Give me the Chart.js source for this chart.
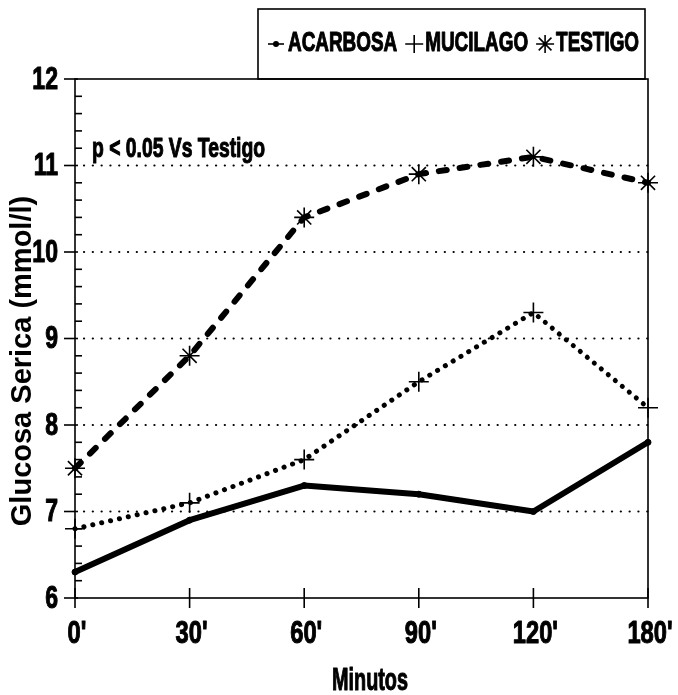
<!DOCTYPE html>
<html>
<head>
<meta charset="utf-8">
<title>Glucosa Serica</title>
<script src="https://cdn.jsdelivr.net/npm/chart.js@4.4.1/dist/chart.umd.min.js"></script>
<style>
  body { margin: 0; background: #fff; }
  #wrap { width: 678px; height: 695px; }
</style>
</head>
<body>
<div id="wrap"><canvas id="glucosaChart" width="678" height="695"></canvas></div>
<script>
// ---------------- DATA -----------------------------
const minutos = ["0'", "30'", "60'", "90'", "120'", "180'"];
const acarbosa = [6.3, 6.9, 7.3, 7.2, 7.0, 7.8];
const mucilago = [6.8, 7.1, 7.6, 8.5, 9.3, 8.2];
const testigo = [7.5, 8.8, 10.4, 10.9, 11.1, 10.8];
const yTicks = [6, 7, 8, 9, 10, 11, 12];
const yTitle = "Glucosa Serica (mmol/l)";
const xTitle = "Minutos";
const nota = "p < 0.05 Vs Testigo";

const sans = "'Liberation Sans', Arial, sans-serif";

// the original lettering is a heavy condensed bold face:
// squeeze bold sans horizontally and thicken it a little
function condensedText(ctx, text, x, y, align, size, squeeze) {
  ctx.save();
  ctx.font = "bold " + size + "px " + sans;
  ctx.textAlign = align;
  ctx.textBaseline = "middle";
  ctx.lineWidth = 1.1;
  ctx.lineJoin = "round";
  ctx.translate(x, y);
  ctx.scale(squeeze, 1);
  ctx.fillText(text, 0, 0);
  ctx.strokeText(text, 0, 0);
  ctx.restore();
}

function condensedWidth(ctx, text, size, squeeze) {
  ctx.save();
  ctx.font = "bold " + size + "px " + sans;
  const w = ctx.measureText(text).width * squeeze;
  ctx.restore();
  return w;
}

// ---------------- FRAME, GRID, TEXT, LEGEND -----------------------------
const framePlugin = {
  id: "frame",
  beforeDatasetsDraw(chart) {
    const { ctx, chartArea: a, scales } = chart;
    const x = scales.x;
    const y = scales.y;
    ctx.save();
    ctx.strokeStyle = "#000";
    ctx.fillStyle = "#000";

    // dotted grid lines
    ctx.lineWidth = 2.2;
    ctx.lineCap = "round";
    ctx.setLineDash([0.1, 8.7]);
    yTicks.slice(1, -1).forEach((v) => {
      const py = y.getPixelForValue(v);
      ctx.beginPath();
      ctx.moveTo(a.left + 9, py);
      ctx.lineTo(a.right, py);
      ctx.stroke();
    });
    ctx.setLineDash([]);
    ctx.lineCap = "butt";

    // plot frame
    ctx.lineWidth = 1.6;
    ctx.strokeRect(a.left, a.top, a.right - a.left, a.bottom - a.top);

    // y ticks: major outward, minor inward
    yTicks.forEach((v) => {
      const py = y.getPixelForValue(v);
      ctx.lineWidth = 1.6;
      ctx.beginPath();
      ctx.moveTo(a.left - 11, py);
      ctx.lineTo(a.left + 3, py);
      ctx.stroke();
      condensedText(ctx, String(v), a.left - 17, py + 1, "right", 32, 0.72);
    });
    ctx.lineWidth = 1.6;
    for (let i = 1; i < (yTicks.length - 1) * 5; i++) {
      if (i % 5 === 0) continue;
      const py = y.getPixelForValue(yTicks[0] + i * 0.2);
      ctx.beginPath();
      ctx.moveTo(a.left, py);
      ctx.lineTo(a.left + 7, py);
      ctx.stroke();
    }

    // x ticks crossing the axis
    minutos.forEach((m, i) => {
      const px = x.getPixelForValue(i);
      ctx.lineWidth = 1.6;
      ctx.beginPath();
      ctx.moveTo(px, a.bottom - 10);
      ctx.lineTo(px, a.bottom + 10);
      ctx.stroke();
      condensedText(ctx, m, px + 2, a.bottom + 36, "center", 32, 0.74);
    });

    // axis titles
    condensedText(ctx, xTitle, 370, 681, "center", 31, 0.64);
    ctx.save();
    ctx.font = "bold 29px " + sans;
    ctx.textAlign = "center";
    ctx.textBaseline = "middle";
    ctx.translate(23, 361);
    ctx.rotate(-Math.PI / 2);
    ctx.fillText(yTitle, 0, 0);
    ctx.restore();

    // note
    condensedText(ctx, nota, a.left + 17, 149, "left", 28, 0.69);

    ctx.restore();
  },
  afterDraw(chart) {
    const { ctx, chartArea: a } = chart;
    ctx.save();
    ctx.strokeStyle = "#000";
    ctx.fillStyle = "#000";
    ctx.lineWidth = 1.6;

    // legend box sitting on the plot frame
    const boxRight = a.right - 3;
    const boxLeft = 258;
    const boxTop = 9;
    ctx.strokeRect(boxLeft, boxTop, boxRight - boxLeft, a.top - boxTop);

    const cy = 44;
    let cx = boxLeft + 10;
    chart.data.datasets.forEach((ds) => {
      if (ds.label === "ACARBOSA") {
        ctx.lineWidth = 1.6;
        ctx.beginPath();
        ctx.moveTo(cx, cy);
        ctx.lineTo(cx + 16, cy);
        ctx.stroke();
        ctx.beginPath();
        ctx.arc(cx + 8, cy, 3, 0, Math.PI * 2);
        ctx.fill();
        cx += 20;
      } else {
        Chart.helpers.drawPoint(ctx, {
          pointStyle: ds.pointStyle,
          radius: 9,
          borderWidth: 1.6,
        }, cx + 8, cy);
        cx += 19;
      }
      condensedText(ctx, ds.label, cx, cy, "left", 27, 0.7);
      cx += condensedWidth(ctx, ds.label, 27, 0.7) + 9;
    });
    ctx.restore();
  },
};

// ---------------- LINE CHART -----------------------------
const lineChartData = {
  labels: minutos,
  datasets: [
    {
      label: "ACARBOSA",
      data: acarbosa,
      borderColor: "#000",
      backgroundColor: "#000",
      borderWidth: 6,
      borderJoinStyle: "round",
      pointStyle: "circle",
      pointRadius: 3,
      pointBorderWidth: 1,
    },
    {
      label: "MUCILAGO",
      data: mucilago,
      borderColor: "#000",
      backgroundColor: "#000",
      borderWidth: 5,
      borderDash: [0.1, 9],
      borderCapStyle: "round",
      pointStyle: "cross",
      pointRadius: 10,
      pointBorderWidth: 1.6,
    },
    {
      label: "TESTIGO",
      data: testigo,
      borderColor: "#000",
      backgroundColor: "#000",
      borderWidth: 6,
      borderDash: [8, 13],
      borderCapStyle: "round",
      pointStyle: "star",
      pointRadius: 10,
      pointBorderWidth: 1.6,
    },
  ],
};

const lineChartConfig = {
  type: "line",
  data: lineChartData,
  plugins: [framePlugin],
  options: {
    responsive: false,
    devicePixelRatio: 1,
    animation: false,
    clip: false,
    elements: { line: { tension: 0 } },
    layout: { padding: { top: 79, right: 30, left: 0, bottom: 0 } },
    plugins: {
      legend: { display: false },
      tooltip: { enabled: false },
    },
    scales: {
      x: {
        type: "category",
        offset: false,
        grid: { display: false, drawTicks: false },
        border: { display: false },
        ticks: { display: false },
        afterFit(scale) {
          scale.height = 97;
        },
      },
      y: {
        min: 6,
        max: 12,
        grid: { display: false, drawTicks: false },
        border: { display: false },
        ticks: { display: false, stepSize: 1 },
        afterFit(scale) {
          scale.width = 75;
        },
      },
    },
  },
};

// RENDER THE CHART
const glucosaChart = new Chart(document.getElementById("glucosaChart"), lineChartConfig);
</script>
</body>
</html>
